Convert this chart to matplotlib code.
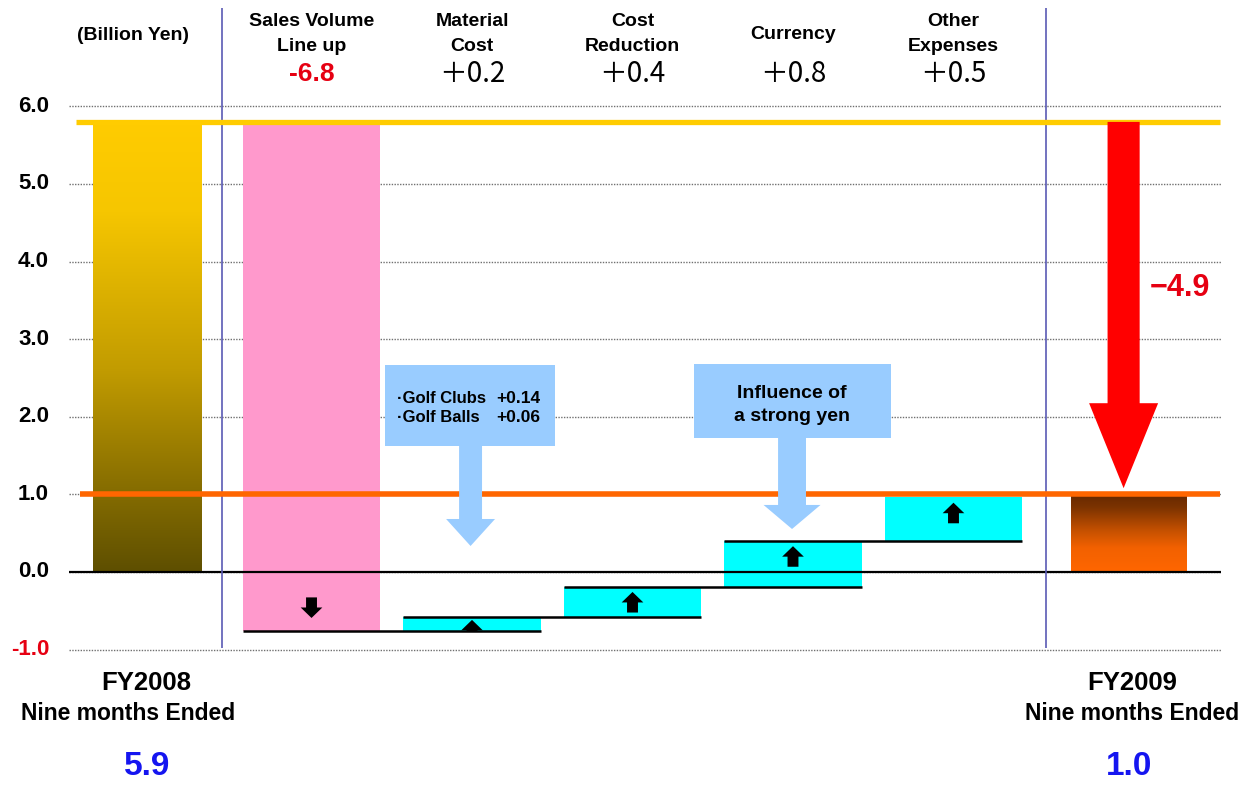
import numpy as np
import matplotlib.pyplot as plt
from matplotlib.colors import LinearSegmentedColormap
from matplotlib.patches import Rectangle, FancyArrow

plt.rcParams['font.family'] = ['Liberation Sans', 'DejaVu Sans']

# bridge data, billion yen (bar levels as drawn in the chart)
steps = ['Sales Volume\nLine up', 'Material\nCost', 'Cost\nReduction', 'Currency', 'Other\nExpenses']
step_labels = ['-6.8', '＋0.2', '＋0.4', '＋0.8', '＋0.5']
start_value = 5.8
step_ends = [-0.76, -0.58, -0.19, 0.40, 0.97]
end_value = 0.97
arrow_mid = [-0.46, -0.75, -0.39, 0.20, 0.76]
periods = ['FY2008', 'FY2009']
period_values = ['5.9', '1.0']
total_change = '\u22124.9'
yticks = [6.0, 5.0, 4.0, 3.0, 2.0, 1.0, 0.0, -1.0]
golf_items = ['\u00b7Golf Clubs', '\u00b7Golf Balls']
golf_values = ['+0.14', '+0.06']

fig = plt.figure(figsize=(12.52, 7.85), dpi=100)
ax = fig.add_axes([0, 0, 1, 1])
ax.axis('off')

pos_start, pos_end = -0.025, 6.09
pos = np.arange(1, len(steps) + 1)
w_step, w_start, w_end = 0.854, 0.679, 0.717
x_left, x_right = -0.511, 6.667

# dotted grid + tick labels
ax.hlines(yticks, x_left, x_right, colors='#707070', lw=1, linestyles=(0, (1, 1)), zorder=1)
for t in yticks:
    ax.text(-0.635, t, f'{t:.1f}', ha='right', va='center', fontsize=16, fontweight='bold',
            color='#E60012' if t < 0 else 'black')

# start / end bars with gradient fill
def gradient_bar(x, w, top, colors):
    cmap = LinearSegmentedColormap.from_list('g', colors)
    grad = np.linspace(0, 1, 256).reshape(-1, 1)
    ax.imshow(grad, cmap=cmap, extent=[x - w / 2, x + w / 2, 0, top], aspect='auto', zorder=2)

gradient_bar(pos_start, w_start, start_value,
             [(0, '#FFCC00'), (0.2, '#F6C600'), (0.55, '#C29C00'), (0.8, '#8A7000'), (1, '#5E4F00')])
gradient_bar(pos_end, w_end, end_value,
             [(0, '#6A2A00'), (0.15, '#7C3300'), (0.45, '#C45000'), (0.68, '#F26100'), (1, '#FF6600')])

# step bars
prev = [start_value] + step_ends[:-1]
bottoms = [min(a, b) for a, b in zip(prev, step_ends)]
heights = [abs(a - b) for a, b in zip(prev, step_ends)]
colors = ['#FF99CC'] + ['#00FFFF'] * (len(steps) - 1)
bars = ax.bar(pos, heights, bottom=bottoms, width=w_step, color=colors, zorder=2)

# connector lines
ax.hlines(step_ends[:-1], pos[:-1] - w_step / 2, pos[1:] + w_step / 2, colors='black', lw=1.8, zorder=4)

# small direction arrows inside the bars
for i, (p, m) in enumerate(zip(pos, arrow_mid)):
    up = step_ends[i] > prev[i]
    L = 0.265
    y0 = m - L / 2 if up else m + L / 2
    a = FancyArrow(p, y0, 0, L if up else -L, width=0.068, head_width=0.135, head_length=0.135,
                   length_includes_head=True, color='black', lw=0, zorder=3)
    ax.add_patch(a)
    a.set_clip_path(bars[i])

# reference lines
ax.hlines(0, x_left, x_right, colors='black', lw=1.6, zorder=4)
ax.hlines(start_value, -0.468, 6.660, colors='#FFCC00', lw=3.8, zorder=5)
ax.hlines(1.0, -0.443, 6.660, colors='#FF6600', lw=4, zorder=5)
sep = [(pos_start + w_start / 2 + pos[0] - w_step / 2) / 2,
       (pos[-1] + w_step / 2 + pos_end - w_end / 2) / 2]
ax.vlines(sep, -0.98, 7.27, colors='#5A5AB4', lw=1.2, zorder=4)

# big red arrow for total change
ax.add_patch(FancyArrow(pos_end - 0.03, start_value, 0, end_value + 0.11 - start_value,
                        width=0.2, head_width=0.43, head_length=1.095, length_includes_head=True,
                        color='#FF0000', lw=0, zorder=6))
ax.text(6.224, 3.66, total_change, ha='left', va='center', fontsize=22, fontweight='bold',
        color='#E60012')

# callouts
blue = '#99CCFF'
ax.add_patch(Rectangle((1.458, 1.624), 1.059, 1.044, color=blue, lw=0, zorder=6))
ax.add_patch(FancyArrow(1.991, 1.66, 0, 0.335 - 1.66, width=0.143, head_width=0.305, head_length=0.348,
                        length_includes_head=True, color=blue, lw=0, zorder=6))
for k, (item, val) in enumerate(zip(golf_items, golf_values)):
    yy = 2.242 - k * 0.257
    ax.text(1.530, yy, item, ha='left', va='center', fontsize=12, fontweight='bold', zorder=7)
    ax.text(2.150, yy, val, ha='left', va='center', fontsize=12.5, fontweight='bold', zorder=7)

ax.add_patch(Rectangle((3.383, 1.727), 1.228, 0.953, color=blue, lw=0, zorder=6))
ax.add_patch(FancyArrow(3.994, 1.76, 0, 0.554 - 1.76, width=0.174, head_width=0.355, head_length=0.31,
                        length_includes_head=True, color=blue, lw=0, zorder=6))
ax.text(3.994, 2.15, 'Influence of\na strong yen', ha='center', va='center', fontsize=14,
        fontweight='bold', linespacing=1.5, zorder=7)

# header labels
ax.text(-0.112, 6.91, '(Billion Yen)', ha='center', va='center', fontsize=14, fontweight='bold')
for p, name, lab in zip(pos, steps, step_labels):
    ax.text(p, 6.93, name, ha='center', va='center', fontsize=14, fontweight='bold', linespacing=1.6)
    if lab.startswith('-'):
        ax.text(p, 6.42, lab, ha='center', va='center', fontsize=19, fontweight='bold', color='#E60012')
    else:
        ax.text(p, 6.42, lab, ha='center', va='center', fontsize=20,
                family=['Noto Sans CJK JP', 'DejaVu Sans'])

# period labels
for x_fy, x_sub, x_val, fy, val in zip([-0.028, 6.112], [-0.143, 6.112], [-0.025, 6.093],
                                        periods, period_values):
    ax.text(x_fy, -1.43, fy, ha='center', va='center', fontsize=18.5, fontweight='bold')
    ax.text(x_sub, -1.83, 'Nine months Ended', ha='center', va='center', fontsize=16.5, fontweight='bold')
    ax.text(x_val, -2.51, val, ha='center', va='center', fontsize=24, fontweight='bold', color='#1515F0')

ax.set_xlim(-0.941, 6.860)
ax.set_ylim(-2.745, 7.371)
fig.savefig('out.png', dpi=100)
